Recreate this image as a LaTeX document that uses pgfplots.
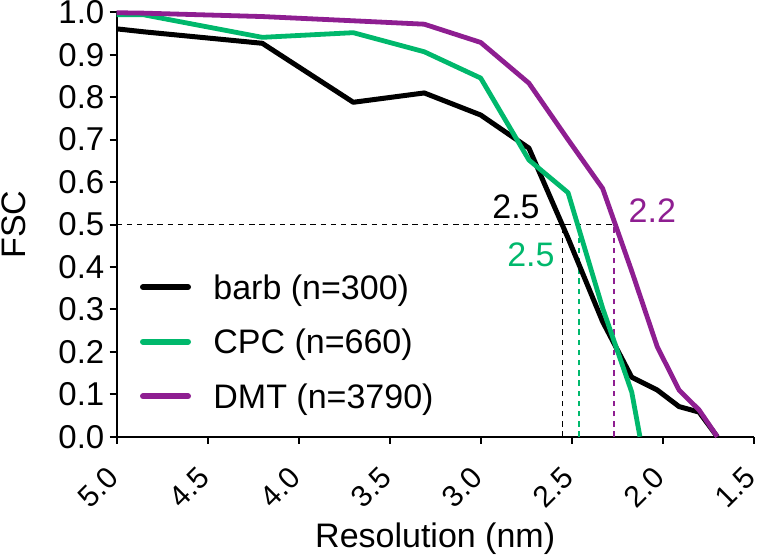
\documentclass[border=0pt]{standalone}
\usepackage{pgfplots}
\pgfplotsset{compat=1.18}
\usepackage{fontspec}
\setmainfont{Liberation Sans}
\definecolor{cpc}{RGB}{0,184,108}
\definecolor{dmt}{RGB}{142,30,145}
\begin{document}
\begin{tikzpicture}
\begin{axis}[
  name=ax,
  scale only axis, width=318.5pt, height=212.2pt,
  x dir=reverse, xmin=1.5, xmax=5.0, ymin=0, ymax=1.0,
  clip=false,
  axis lines*=left, axis line style={line width=1pt},
  xtick={1.5,2.0,2.5,3.0,3.5,4.0,4.5,5.0},
  ytick={0,0.1,0.2,0.3,0.4,0.5,0.6,0.7,0.8,0.9,1.0},
  tick align=outside, major tick length=3.5pt, tick style={line width=1pt, black},
  /pgf/number format/assume math mode=true,
  ticklabel style={
    /pgf/number format/fixed, /pgf/number format/fixed zerofill, /pgf/number format/precision=1},
  yticklabel style={font=\fontsize{16.5}{19}\selectfont, inner xsep=2.5pt},
  xticklabel style={font=\fontsize{15}{17}\selectfont, yshift=-12pt, xshift=0.5pt, rotate=45, anchor=east},
  xlabel={Resolution (nm)}, ylabel={FSC},
  label style={font=\fontsize{17}{20}\selectfont},
  xlabel style={at={(axis description cs:0.5,-0.262)}, anchor=base},
  ylabel style={at={(axis description cs:-0.1623,0.5)}, anchor=center},
  legend style={at={(axis description cs:0.0366,0.3806)}, anchor=north west, draw=none, fill=none,
    inner sep=0pt, outer sep=0pt,
    font=\fontsize{17}{20}\selectfont, row sep=11.8pt,
    nodes={inner sep=0pt, text height=12pt, text depth=3.5pt},
    /tikz/every odd column/.append style={column sep=11.2pt}},
  legend cell align=left,
  legend image code/.code={\draw[#1, line width=3pt, line cap=round] (1.5pt,1.8pt) -- (24pt,1.8pt);},
  every axis plot/.append style={line join=round},
]
% dashed guide lines
\addplot[forget plot, black, line width=0.9pt, dash pattern=on 2.7pt off 2.4pt] coordinates {(5.0,0.5) (2.266,0.5)};
\addplot[forget plot, black, line width=0.9pt, dash pattern=on 2.7pt off 2.4pt] coordinates {(2.551,0) (2.551,0.5)};
\addplot[forget plot, cpc, line width=0.9pt, dash pattern=on 2.7pt off 2.4pt] coordinates {(2.462,0) (2.462,0.5)};
\addplot[forget plot, dmt, line width=0.9pt, dash pattern=on 2.7pt off 2.4pt] coordinates {(2.266,0) (2.266,0.5)};
% data
\addplot[black, line width=2.5pt] coordinates {
 (5.0,0.961) (4.85,0.954) (4.2,0.927) (3.70,0.788) (3.31,0.810) (3.0,0.758) (2.735,0.680)
 (2.52,0.468) (2.33,0.271) (2.17,0.140) (2.03,0.110) (1.91,0.071) (1.80,0.058) (1.70,0.0)};
\addlegendentry{barb (n=300)}
\addplot[cpc, line width=2.4pt] coordinates {
 (5.0,0.994) (4.85,0.994) (4.2,0.941) (3.70,0.952) (3.31,0.907) (3.0,0.845) (2.735,0.652)
 (2.52,0.575) (2.33,0.303) (2.17,0.105) (2.125,0.0)};
\addlegendentry{CPC (n=660)}
\addplot[dmt, line width=2.4pt] coordinates {
 (5.0,0.999) (4.85,0.998) (4.2,0.990) (3.70,0.980) (3.31,0.972) (3.0,0.929) (2.735,0.833)
 (2.52,0.700) (2.33,0.585) (2.17,0.390) (2.03,0.212) (1.91,0.110) (1.80,0.063) (1.70,0.0)};
\addlegendentry{DMT (n=3790)}
\node[anchor=base east, inner sep=0pt, font=\fontsize{17}{20}\selectfont, text=black] at (axis cs:2.674,0.515) {2.5};
\node[anchor=base east, inner sep=0pt, font=\fontsize{17}{20}\selectfont, text=cpc] at (axis cs:2.592,0.401) {2.5};
\node[anchor=base west, inner sep=0pt, font=\fontsize{17}{20}\selectfont, text=dmt] at (axis cs:2.189,0.504) {2.2};
\end{axis}
\pgfresetboundingbox
\useasboundingbox ([shift={(-58.35pt,-60.65pt)}]ax.south west) rectangle ([shift={(2.65pt,6.15pt)}]ax.north east);
\end{tikzpicture}
\end{document}
